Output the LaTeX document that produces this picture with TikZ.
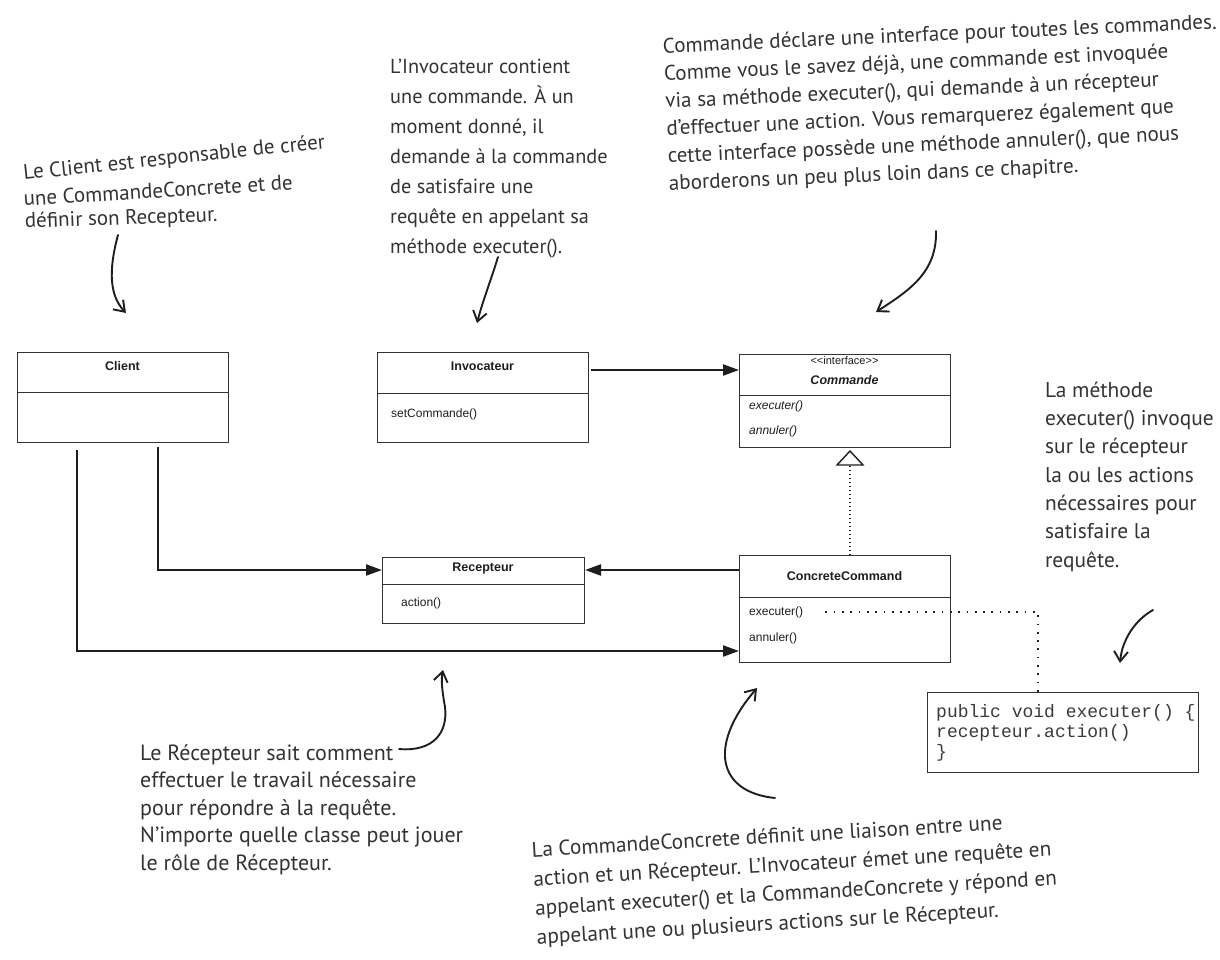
\documentclass[tikz,border=0pt]{standalone}
\usepackage{fontspec}
\usetikzlibrary{arrows.meta,calc}
\newfontfamily\umlfont{Liberation Sans}
\newfontfamily\handfont{PT Sans}
\newfontfamily\codefont{Liberation Mono}
\definecolor{ink}{HTML}{1E1E1E}
\definecolor{boxline}{HTML}{333333}
\definecolor{handink}{HTML}{333333}
\definecolor{codeink}{HTML}{3A3A3A}
\begin{document}
\begin{tikzpicture}[x=1pt,y=-1pt,
  umlbox/.style={draw=boxline,line width=1pt,rectangle,inner sep=0pt,anchor=north west,fill=white},
  umltitle/.style={font=\umlfont\bfseries\fontsize{12.5}{14}\selectfont,text=ink,inner sep=0pt},
  umlop/.style={font=\umlfont\fontsize{12}{14}\selectfont,text=ink,inner sep=0pt,anchor=west},
  divider/.style={draw=boxline,line width=1pt},
  assoc/.style={draw=ink,line width=2.2pt,-{Triangle[length=16pt,width=11pt]}},
  realize/.style={draw=ink,line width=1.5pt,dash pattern=on 1.5pt off 2.5pt},
  dotlink/.style={draw=ink,line width=1.7pt,dash pattern=on 1.7pt off 6.6pt},
  note/.style={font=\handfont\fontsize{21}{28}\selectfont,text=handink,align=left,anchor=base west,inner sep=0pt},
  handarrow/.style={draw=ink,line width=1.9pt,line cap=round,line join=round,-{Straight Barb[length=10pt,width=14pt,line width=1.9pt]}},
  codebox/.style={draw=boxline,line width=1pt,rectangle,inner sep=0pt,anchor=north west},
  codetext/.style={font=\codefont\fontsize{18}{20}\selectfont,text=codeink,align=left,anchor=base west,inner sep=0pt}
]
\fill[white] (0,0) rectangle (1220,959);
\useasboundingbox (0,0) rectangle (1220,959);

% ---------- UML classes ----------
\node[umlbox,minimum width=211pt,minimum height=90pt] (client) at (17,352) {};
\draw[divider] (client.west |- 0,392) -- (client.east |- 0,392);
\node[umltitle] (clientT) at (122.5,366) {Client};

\node[umlbox,minimum width=211pt,minimum height=90pt] (invoc) at (377,352) {};
\draw[divider] (invoc.west |- 0,393) -- (invoc.east |- 0,393);
\node[umltitle] (invocT) at (482.5,366) {Invocateur};
\node[umlop] (invocOp) at (391,414) {setCommande()};

\node[umlbox,minimum width=211pt,minimum height=93pt] (commande) at (739,354) {};
\draw[divider] (commande.west |- 0,395) -- (commande.east |- 0,395);
\node[umlop,anchor=center,font=\umlfont\fontsize{11}{13}\selectfont] (stereo) at (844.5,361) {<<interface>>};
\node[umltitle,font=\umlfont\bfseries\itshape\fontsize{12.5}{14}\selectfont] (commandeT) at (844.5,380) {Commande};
\node[umlop,font=\umlfont\itshape\fontsize{12}{14}\selectfont] (cmdExec) at (749,406) {executer()};
\node[umlop,font=\umlfont\itshape\fontsize{12}{14}\selectfont] (cmdAnn) at (749,431) {annuler()};

\node[umlbox,minimum width=202pt,minimum height=66pt] (recepteur) at (382,557) {};
\draw[divider] (recepteur.west |- 0,584) -- (recepteur.east |- 0,584);
\node[umltitle] (recepteurT) at (483,568) {Recepteur};
\node[umlop] (recAction) at (401,603) {action()};

\node[umlbox,minimum width=211pt,minimum height=107pt] (cc) at (739,555) {};
\draw[divider] (cc.west |- 0,597) -- (cc.east |- 0,597);
\node[umltitle] (ccT) at (844.5,576) {ConcreteCommand};
\node[umlop] (ccExec) at (749,612) {executer()};
\node[umlop] (ccAnn) at (749,638) {annuler()};

% ---------- code box ----------
\node[codebox,minimum width=271pt,minimum height=80pt] (code) at (927,692) {};
\node[codetext] (codeT) at (936,757) {public void executer() \{\\recepteur.action()\\\}};

% ---------- associations ----------
\draw[assoc] ($(client.south west)+(141,4)$) |- ($(recepteur.north west)+(0,13)$);
\draw[assoc] ($(client.south west)+(60,7)$) |- ($(cc.south west)+(0,-12)$);
\draw[assoc] ($(invoc.north east)+(2,18)$) -- ($(commande.north west)+(0,16)$);
\coordinate (ccR) at ($(cc.north west)+(0,15)$);
\draw[assoc] (ccR) -- (recepteur.east |- ccR);

% realization (dotted, hollow triangle)
\coordinate (realTop) at ($(commande.south west)+(111,3)$);
\coordinate (realBot) at (cc.north -| realTop);
\draw[realize] (realBot) -- ($(realTop)+(0,14)$);
\draw[draw=ink,line width=1.4pt,fill=white,line join=miter] (realTop) -- ++(-13,14) -- ++(26,0) -- cycle;

% dotted link to code
\coordinate (dotStart) at ($(ccExec.east)+(22,0)$);
\coordinate (dotCorner) at ($(code.north west)+(111,0)$);
\draw[dotlink] (dotStart) -| (dotCorner);

% ---------- handwritten notes (base = baseline of last line) ----------
\node[note,rotate=6] (n1a) at (24,180) {Le Client est responsable de créer};
\node[note,rotate=3.5] (n1b) at (24,206) {une CommandeConcrete et de};
\node[note,rotate=2] (n1c) at (25,228) {définir son Recepteur.};

\node[note,font=\handfont\fontsize{20.3}{30}\selectfont] (n2) at (390,253) {L’Invocateur contient\\une commande. À un\\moment donné, il\\demande à la commande\\de satisfaire une\\requête en appelant sa\\méthode executer().};

\node[note,rotate=2.5,font=\handfont\fontsize{21.1}{27.5}\selectfont] (n3) at (669,190.4) {Commande déclare une interface pour toutes les commandes.\\Comme vous le savez déjà, une commande est invoquée\\via sa méthode executer(), qui demande à un récepteur\\d’effectuer une action. Vous remarquerez également que\\cette interface possède une méthode annuler(), que nous\\aborderons un peu plus loin dans ce chapitre.};

\node[note,font=\handfont\fontsize{21.4}{28.3}\selectfont] (n4) at (1045,567) {La méthode\\executer() invoque\\sur le récepteur\\la ou les actions\\nécessaires pour\\satisfaire la\\requête.};

\node[note,font=\handfont\fontsize{22}{27.5}\selectfont] (n5) at (140,870) {Le Récepteur sait comment\\effectuer le travail nécessaire\\pour répondre à la requête.\\N’importe quelle classe peut jouer\\le rôle de Récepteur.};

\node[note,rotate=3.3,font=\handfont\fontsize{21.3}{29}\selectfont] (n6) at (537,944) {La CommandeConcrete définit une liaison entre une\\action et un Récepteur. L’Invocateur émet une requête en\\appelant executer() et la CommandeConcrete y répond en\\appelant une ou plusieurs actions sur le Récepteur.};

% ---------- handwritten arrows ----------
\coordinate (a1s) at (118,235); \coordinate (a1e) at (126,313);
\draw[handarrow] (a1s) .. controls (108,272) and (110,296) .. (a1e);
\coordinate (a2s) at (498,257); \coordinate (a2e) at (477,323);
\draw[handarrow] (a2s) .. controls (491,280) and (483,300) .. (a2e);
\coordinate (a3s) at (936,231); \coordinate (a3e) at (876,312);
\draw[handarrow] (a3s) .. controls (937,272) and (910,290) .. (a3e);
\coordinate (a4s) at (1153,610); \coordinate (a4e) at (1120,663);
\draw[handarrow] (a4s) .. controls (1135,620) and (1122,640) .. (a4e);
\coordinate (a5s) at (399,749); \coordinate (a5m) at (445,707); \coordinate (a5e) at (443,670);
\draw[handarrow] (a5s) .. controls (434,752) and (448,732) .. (a5m) .. controls (442,690) and (441,680) .. (a5e);
\coordinate (a6s) at (775,798); \coordinate (a6e) at (757,688);
\draw[handarrow] (a6s) .. controls (717,792) and (708,745) .. (a6e);
\end{tikzpicture}
\end{document}
